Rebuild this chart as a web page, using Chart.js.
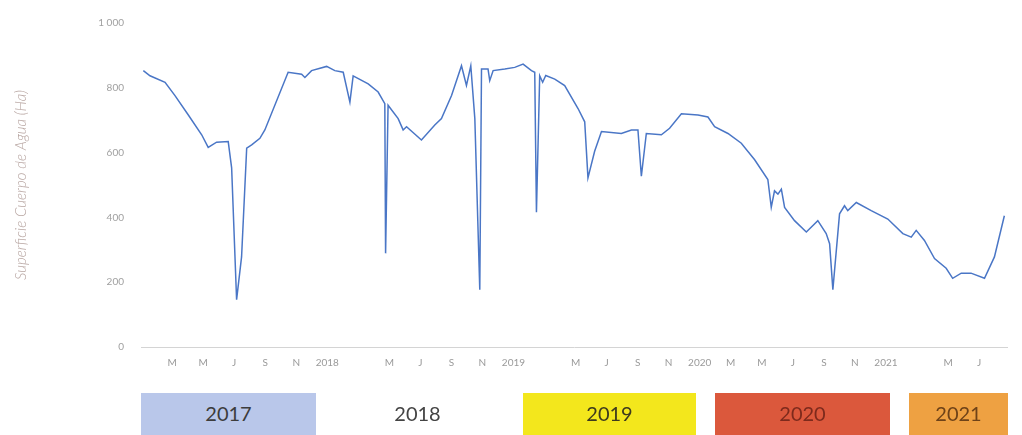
<!DOCTYPE html>
<html lang="es">
<head>
  <meta charset="UTF-8" />
  <title>Superficie Cuerpo de Agua</title>
  <style>
    body {
      margin: 0;
      background: #ffffff;
      font-family: 'Lato', sans-serif;
    }

    .lienzo {
      position: relative;
      width: 1022px;
      height: 435px;
      overflow: hidden;
    }

    .anio {
      position: absolute;
      top: 393px;
      height: 48px;
      font-size: 20px;
      line-height: 40px;
      text-align: center;
      color: #3c3c3c;
    }
  </style>
</head>
<body>
  <div class="lienzo">
    <canvas id="grafico" width="1022" height="435"></canvas>
    <div class="anio" style="left:141px;width:175px;background:#b9c7ea;">2017</div>
    <div class="anio" style="left:330px;width:175px;color:#444;">2018</div>
    <div class="anio" style="left:523px;width:173px;background:#f3e71c;color:#3d3a1e;">2019</div>
    <div class="anio" style="left:715px;width:175px;background:#db583c;color:#7d2a1c;">2020</div>
    <div class="anio" style="left:909px;width:99px;background:#eea142;color:#6e4218;">2021</div>
  </div>

  <script src="https://cdn.jsdelivr.net/npm/chart.js"></script>
  <script>
    // meses desde enero 2017
    const meses = [0.15, 0.58, 1.55, 2.19, 3.05, 3.91, 4.33, 4.87, 5.62, 5.84, 6.16, 6.48, 6.81, 7.13, 7.66, 7.98,
      9.48, 10.35, 10.56, 10.99, 11.96, 12.49, 13.03, 13.46, 13.67, 14.64, 15.28, 15.71, 15.76, 15.92,
      16.57, 16.89, 17.11, 18.07, 18.93, 19.36, 20.01, 20.65, 20.97, 21.25, 21.51, 21.83, 21.94, 22.36,
      22.47, 22.69, 23.44, 24.08, 24.62, 25.16, 25.37, 25.48, 25.69, 25.88, 26.08, 26.66, 27.30, 28.16,
      28.59, 28.80, 29.23, 29.67, 30.95, 31.60, 32.02, 32.24, 32.56, 33.53, 34.06, 34.82, 35.89, 36.53,
      36.96, 37.82, 38.68, 39.54, 40.39, 40.61, 40.82, 41.04, 41.26, 41.47, 42.11, 42.87, 43.61, 44.15,
      44.37, 44.58, 45.01, 45.33, 45.54, 46.09, 47.05, 48.12, 49.09, 49.63, 49.95, 50.48, 51.13, 51.88,
      52.30, 52.85, 53.48, 54.35, 54.99, 55.63];

    const superficie = [853, 837, 817, 776, 716, 655, 616, 632, 634, 553, 146, 278, 614, 624, 644, 670,
      848, 842, 832, 853, 866, 853, 848, 756, 837, 812, 787, 751, 289, 746,
      705, 670, 680, 639, 685, 705, 776, 868, 807, 868, 705, 177, 858, 858,
      822, 853, 858, 863, 873, 853, 848, 416, 837, 817, 838, 827, 807, 736,
      695, 522, 604, 665, 659, 670, 670, 527, 659, 655, 675, 720, 716, 710,
      680, 659, 629, 578, 517, 431, 482, 472, 487, 431, 390, 355, 390, 350,
      319, 177, 411, 436, 421, 446, 421, 395, 350, 339, 360, 329, 273, 243,
      212, 228, 228, 212, 278, 405];

    const posTicks = [2, 4, 6, 8, 10, 12, 16, 18, 20, 22, 24, 28, 30, 32, 34, 36, 38, 40, 42, 44, 46, 48, 52, 54];
    const etiquetas = ['M', 'M', 'J', 'S', 'N', '2018', 'M', 'J', 'S', 'N', '2019', 'M', 'J', 'S', 'N', '2020',
      'M', 'M', 'J', 'S', 'N', '2021', 'M', 'J'];

    const puntos = meses.map((m, i) => ({ x: m, y: superficie[i] }));

    new Chart(document.getElementById("grafico"), {
      type: 'line',
      data: {
        datasets: [{
          data: puntos,
          borderColor: '#4a76c6',
          borderWidth: 1.5,
          pointRadius: 0,
          tension: 0,
          fill: false
        }]
      },
      options: {
        responsive: false,
        animation: false,
        layout: { padding: { left: 12, top: 12, right: 15, bottom: 56 } },
        plugins: { legend: { display: false }, tooltip: { enabled: false } },
        scales: {
          x: {
            type: 'linear',
            min: 0,
            max: 55.8,
            grid: { display: false, drawTicks: false },
            border: { color: '#d4d4d4' },
            afterBuildTicks: s => { s.ticks = posTicks.map(v => ({ value: v })); },
            ticks: {
              autoSkip: false,
              maxRotation: 0,
              padding: 10,
              color: '#9a9a9a',
              font: { family: 'Lato', size: 10 },
              callback: (v) => etiquetas[posTicks.indexOf(v)]
            }
          },
          y: {
            min: 0,
            max: 1000,
            afterFit: s => { s.width = 129; },
            grid: { display: false, drawTicks: false },
            border: { display: false },
            ticks: {
              stepSize: 200,
              padding: 17,
              color: '#a0a0a0',
              font: { family: 'Lato', size: 10 },
              callback: v => v === 1000 ? '1 000' : v
            },
            title: {
              display: true,
              text: 'Superficie Cuerpo de Agua (Ha)',
              color: '#b8a6a2',
              font: { family: 'Lato', size: 15, style: 'italic', weight: 300 },
              padding: { top: 0, bottom: 0 }
            }
          }
        }
      }
    });
  </script>
</body>
</html>
